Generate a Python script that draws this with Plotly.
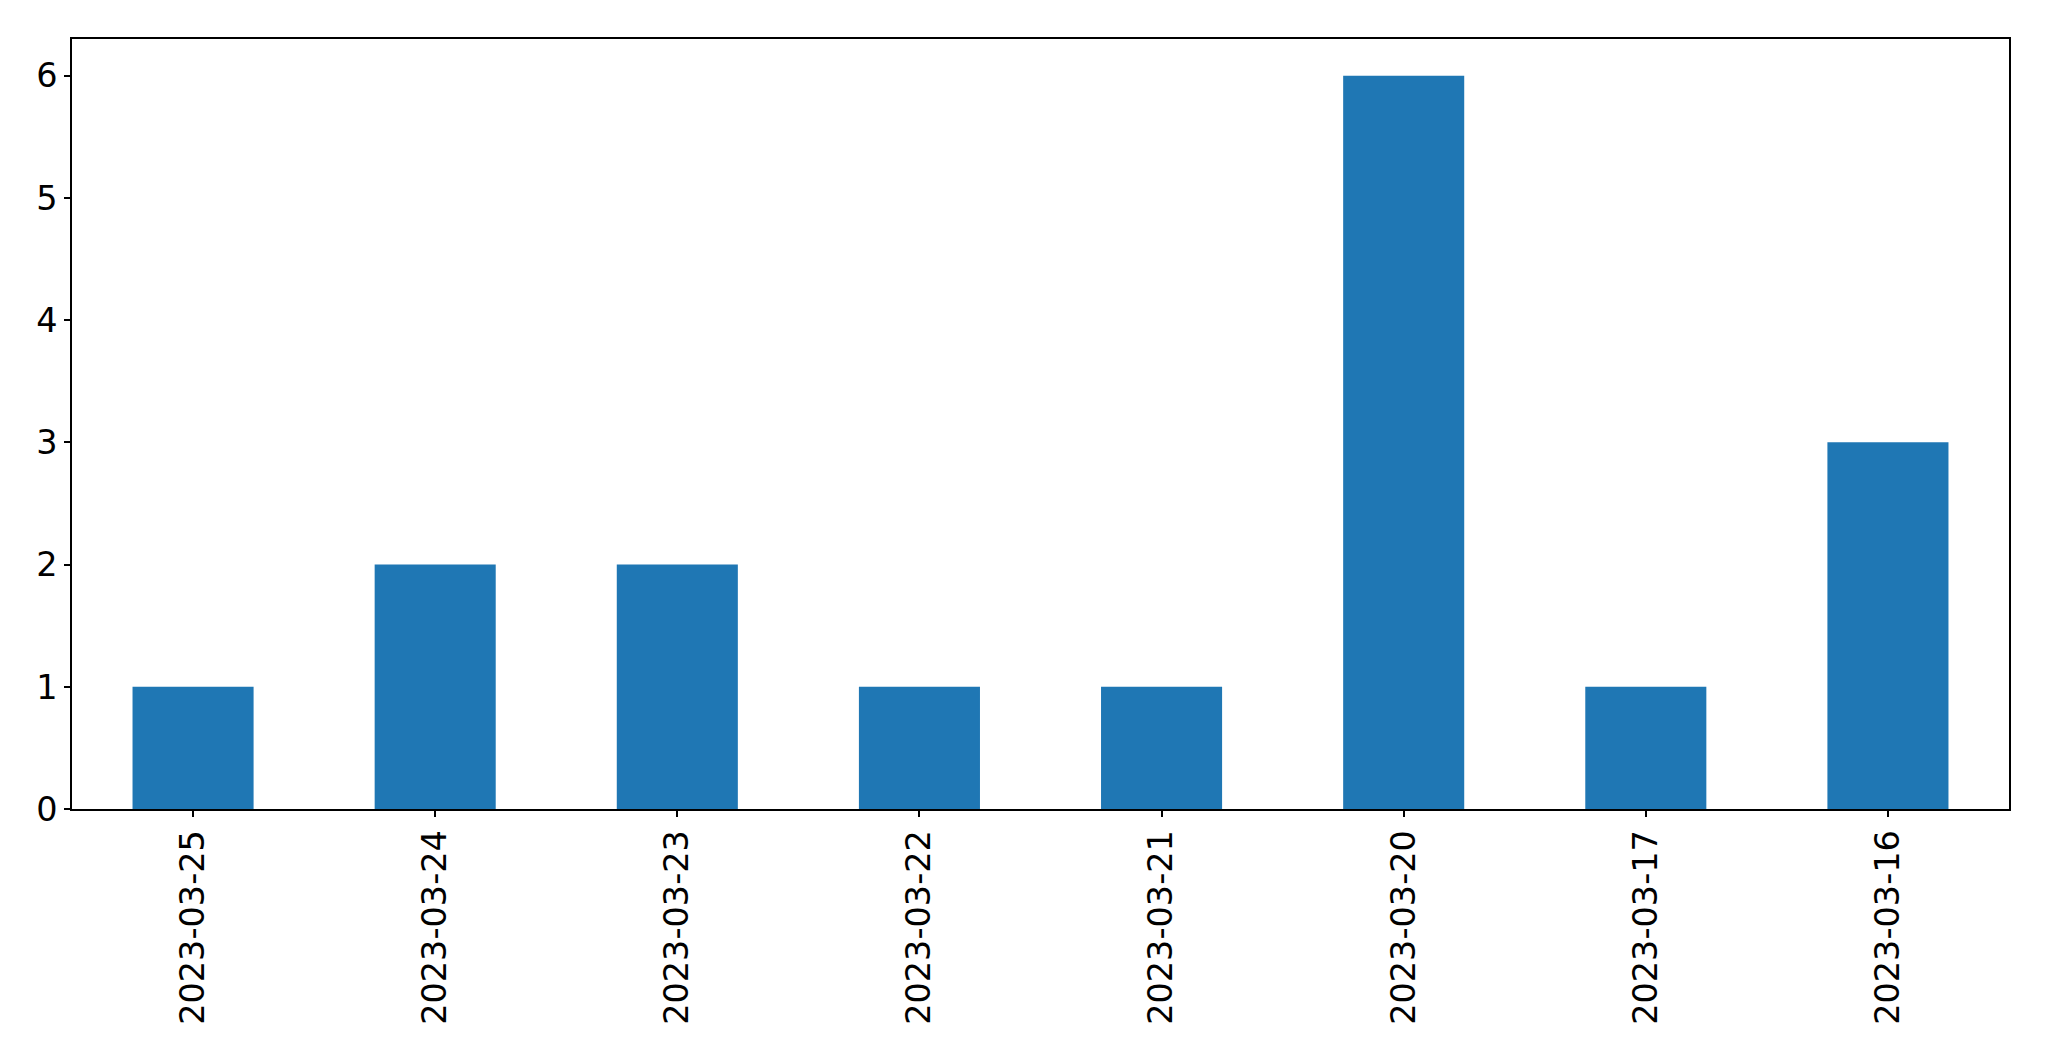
import plotly.graph_objects as go

dates = ["2023-03-25", "2023-03-24", "2023-03-23", "2023-03-22",
         "2023-03-21", "2023-03-20", "2023-03-17", "2023-03-16"]
counts = [1, 2, 2, 1, 1, 6, 1, 3]
y_ticks = [0, 1, 2, 3, 4, 5, 6]

fig = go.Figure(go.Bar(x=dates, y=counts, marker=dict(color="#1f77b4", line=dict(width=0))))

# page body has an 8px margin; compensate so plot area lands at 72..2009 x 39..809
fig.update_layout(
    width=2041, height=1053,
    margin=dict(l=64, r=40, t=31, b=252, autoexpand=False),
    plot_bgcolor="white", paper_bgcolor="white",
    bargap=0.5, showlegend=False,
    font=dict(family="DejaVu Sans", size=33.5, color="black"),
)
fig.update_xaxes(
    type="category", range=[-0.5, 7.5], tickangle=-90,
    showline=True, linecolor="black", linewidth=1.5, mirror=True,
    ticks="outside", ticklen=6, tickwidth=1.5, tickcolor="black",
    ticklabelstandoff=0,
    showgrid=False, zeroline=False, automargin=False,
)
fig.update_yaxes(
    range=[0, 6.3], tickvals=y_ticks,
    showline=True, linecolor="black", linewidth=1.5, mirror=True,
    ticks="outside", ticklen=6, tickwidth=1.5, tickcolor="black",
    showgrid=False, zeroline=False, automargin=False,
)

fig.write_html("out.html")
